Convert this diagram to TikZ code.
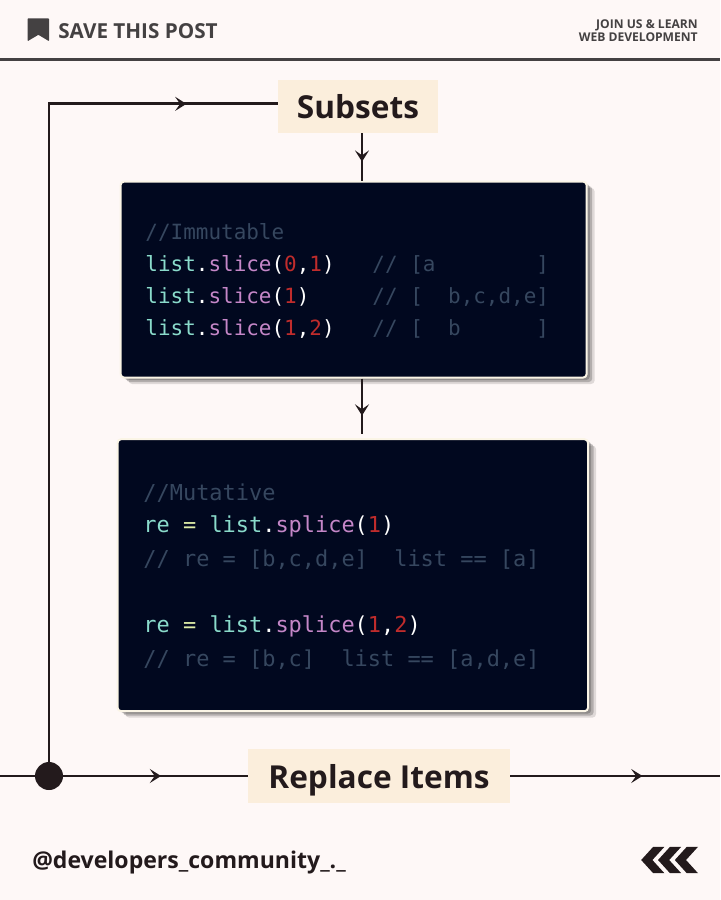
\documentclass[tikz,border=0pt]{standalone}
\usepackage{fontspec}
\setmainfont{Open Sans}
\newfontfamily\codefont{DejaVu Sans Mono}
\usetikzlibrary{arrows.meta,decorations.markings,shadows}

\definecolor{pagebg}{HTML}{FEF8F7}
\definecolor{labelbg}{HTML}{FBEEDC}
\definecolor{inkdark}{HTML}{231A1C}
\definecolor{inkgrey}{HTML}{444142}
\definecolor{codebg}{HTML}{01081F}
\definecolor{codeedge}{HTML}{FBF5E6}
\definecolor{codeteal}{HTML}{8ADBCB}
\definecolor{codepink}{HTML}{C587C8}
\definecolor{codered}{HTML}{C02C2C}
\definecolor{codelime}{HTML}{DDEBA6}
\definecolor{codenote}{HTML}{36475F}

\newcommand{\tl}[1]{\textcolor{codeteal}{#1}}
\newcommand{\pk}[1]{\textcolor{codepink}{#1}}
\newcommand{\rd}[1]{\textcolor{codered}{#1}}
\newcommand{\eqs}{\textcolor{codelime}{=}}

\tikzset{
    labelbox/.style={fill=labelbg, text=inkdark, font=\bfseries\fontsize{22.5}{26}\selectfont, text depth=0pt},
    codebox/.style={draw=codeedge, line width=1.4pt, fill=codebg, rounded corners=2.5pt,
        drop shadow={shadow xshift=.2cm, shadow yshift=-.16cm, fill=black, opacity=.12},
        drop shadow={shadow xshift=.14cm, shadow yshift=-.11cm, fill=black, opacity=.2},
        drop shadow={shadow xshift=.08cm, shadow yshift=-.06cm, fill=black, opacity=.2}},
    codeA/.style={anchor=base west, inner sep=0pt, text=white, font=\codefont\fontsize{14.9}{18}\selectfont},
    codeB/.style={anchor=base west, inner sep=0pt, text=white, font=\codefont\fontsize{15.6}{18}\selectfont},
    flow/.style={draw=inkdark, line width=2.1pt},
    midtip/.style={flow, postaction={decorate}, decoration={markings,
        mark=at position #1 with {\arrow[inkdark]{Stealth[length=8pt,width=10pt,inset=3.5pt]}}}}
}

\begin{document}
\begin{tikzpicture}
    \fill[pagebg] (0,0) rectangle (18,-22.5);
    \useasboundingbox (0,0) rectangle (18,-22.5);

    % Kopfzeile
    \fill[inkgrey, rounded corners=.5pt] (.69,-.46) -- (1.225,-.46) -- (1.225,-1.03) -- (.96,-.87) -- (.69,-1.03) -- cycle;
    \node[anchor=base west, inner sep=0pt, text=inkgrey, font=\bfseries\fontsize{14.7}{18}\selectfont] (save) at (1.45,-.96) {SAVE THIS POST};
    \node[anchor=east, inner sep=0pt, align=right, text=inkgrey, font=\bfseries\fontsize{8.6}{9.4}\selectfont] (join) at (17.45,-.76)
        {JOIN US \& LEARN\\WEB DEVELOPMENT};
    \coordinate (ruleL) at (0,-1.48);
    \coordinate (ruleR) at (18,-1.48);
    \draw[inkgrey, line width=2pt] (ruleL) -- (ruleR);

    % Knoten
    \node[labelbox, minimum width=4cm, minimum height=1.325cm] (subsets) at (8.95,-2.66) {Subsets};
    \node[codebox, minimum width=11.65cm, minimum height=4.9cm] (immut) at (8.84,-6.99) {};
    \node[codebox, minimum width=11.76cm, minimum height=6.8cm] (mutat) at (8.82,-14.38) {};
    \node[labelbox, minimum width=6.55cm, minimum height=1.35cm] (replace) at (9.475,-19.4) {Replace Items};
    \node[circle, fill=inkdark, inner sep=0pt, minimum size=.7cm] (hub) at (1.225,-19.4) {};
    \coordinate (axis) at (9.05,0);
    \coordinate (inL) at (0,-19.4);
    \coordinate (outR) at (18,-19.4);

    % Code oben
    \node[codeA, text=codenote] (a0) at (3.63,-5.98) {//Immutable};
    \node[codeA] (a1) at (3.63,-6.78) {\tl{list}.\pk{slice}(\rd{0},\rd{1})~~~\textcolor{codenote}{//~[a~~~~~~~~]}};
    \node[codeA] (a2) at (3.63,-7.58) {\tl{list}.\pk{slice}(\rd{1})~~~~~\textcolor{codenote}{//~[~~b,c,d,e]}};
    \node[codeA] (a3) at (3.63,-8.38) {\tl{list}.\pk{slice}(\rd{1},\rd{2})~~~\textcolor{codenote}{//~[~~b~~~~~~]}};

    % Code unten
    \node[codeB, text=codenote] (b0) at (3.58,-12.5) {//Mutative};
    \node[codeB] (b1) at (3.58,-13.32) {\tl{re}~\eqs{}~\tl{list}.\pk{splice}(\rd{1})};
    \node[codeB, text=codenote] (b2) at (3.58,-14.15) {//~re~=~[b,c,d,e]~~list~==~[a]};
    \node[codeB] (b3) at (3.58,-15.82) {\tl{re}~\eqs{}~\tl{list}.\pk{splice}(\rd{1},\rd{2})};
    \node[codeB, text=codenote] (b4) at (3.58,-16.65) {//~re~=~[b,c]~~list~==~[a,d,e]};

    % Verbindungen
    \draw[midtip=.897] (hub) |- ([yshift=1.8pt]subsets.west);
    \draw[midtip=.6] (subsets.south -| axis) -- (immut.north -| axis);
    \draw[midtip=.62, shorten >=3pt] (immut.south -| axis) -- (mutat.north -| axis);
    \draw[flow] (inL) -- (hub);
    \draw[midtip=.53] (hub) -- (replace);
    \draw[midtip=.63] (replace) -- (outR);

    % Fusszeile
    \node[anchor=base west, inner sep=0pt, text=inkdark, font=\bfseries\fontsize{16.4}{20}\selectfont] (handle) at (.8,-21.7) {@developers\_community\_.\_};
    \foreach \cx in {16.03,16.45,16.87}
        \fill[inkdark] (\cx+.3,-21.17) -- (\cx,-21.5) -- (\cx+.3,-21.83) -- (\cx+.58,-21.83) -- (\cx+.28,-21.5) -- (\cx+.58,-21.17) -- cycle;
\end{tikzpicture}
\end{document}
